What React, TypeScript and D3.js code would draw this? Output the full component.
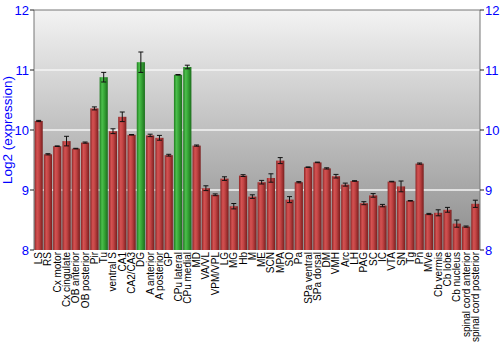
import React from "react";
import * as d3 from "d3";

const categories = ["LS","RS","Cx motor","Cx cingulate","OB anterior","OB posterior","Pir","Tu","ventral S","CA1","CA2/CA3","DG","A anterior","A posterior","GP","CPu lateral","CPu medial","MD","VA/VL","VPM/VPL","LG","MG","Hb","M","ME","SCN","MPA","SO","Pa","SPa ventral","SPa dorsal","DM","VMH","Arc","LH","PAG","SC","IC","VTA","SN","Tg","Pn","MVe","Cb vermis","Cb lobe","Cb nucleus","spinal cord anterior","spinal cord posterior"];
const values = [10.15,9.595,9.73,9.815,9.69,9.79,10.36,10.88,9.98,10.22,9.92,11.13,9.91,9.87,9.58,10.92,11.05,9.74,9.03,8.92,9.19,8.73,9.24,8.89,9.13,9.2,9.49,8.84,9.13,9.38,9.46,9.36,9.23,9.09,9.15,8.78,8.91,8.74,9.14,9.06,8.82,9.44,8.6,8.62,8.67,8.44,8.39,8.77];
const errors = [0.01,0.01,0.005,0.08,0.005,0.01,0.025,0.08,0.04,0.08,0.005,0.17,0.02,0.04,0.015,0.005,0.03,0.01,0.04,0.015,0.03,0.045,0.015,0.03,0.03,0.07,0.05,0.05,0.01,0.005,0.005,0.01,0.03,0.025,0.005,0.025,0.03,0.02,0.005,0.09,0.005,0.01,0.01,0.05,0.04,0.06,0.01,0.06];
const highlighted = ["Tu","DG","CPu lateral","CPu medial"];
const yTicks = [8,9,10,11,12];

export default function App() {
  const W = 500, H = 350;
  const left = 34, right = 480, top = 10, bottom = 250;
  const x = d3.scaleBand().domain(categories).range([left, right]).paddingInner(0.12).paddingOuter(0.06);
  const y = d3.scaleLinear().domain([8, 12]).range([bottom, top]);
  const font = "'Liberation Sans', Arial, sans-serif";
  return (
    <svg width={W} height={H} style={{ position: "absolute", left: 0, top: 0 }}>
      <defs>
        <linearGradient id="bg" x1="0" y1="0" x2="0" y2="1">
          <stop offset="0" stopColor="#f3f3f3" />
          <stop offset="1" stopColor="#8c8c8c" />
        </linearGradient>
        <linearGradient id="red" x1="0" y1="0" x2="1" y2="0">
          <stop offset="0" stopColor="#8e2626" />
          <stop offset="0.3" stopColor="#d45252" />
          <stop offset="0.55" stopColor="#c24444" />
          <stop offset="1" stopColor="#7a1e1e" />
        </linearGradient>
        <linearGradient id="green" x1="0" y1="0" x2="1" y2="0">
          <stop offset="0" stopColor="#1f7d1f" />
          <stop offset="0.3" stopColor="#4cbf4c" />
          <stop offset="0.55" stopColor="#38a838" />
          <stop offset="1" stopColor="#1c6e1c" />
        </linearGradient>
      </defs>
      <rect x={left} y={top} width={right - left} height={bottom - top} fill="url(#bg)" />
      {yTicks.slice(1, -1).map(t => (
        <line key={t} x1={left} x2={right} y1={y(t)} y2={y(t)} stroke="#f4f4f4" strokeWidth={1.5} />
      ))}
      {categories.map((c, i) => {
        const v = values[i], e = errors[i];
        const bx = x(c)!, bw = x.bandwidth();
        const cx = bx + bw / 2;
        return (
          <g key={c}>
            <rect x={bx} y={y(v)} width={bw} height={y(8) - y(v)} fill={highlighted.includes(c) ? "url(#green)" : "url(#red)"} />
            <line x1={cx} x2={cx} y1={y(v + e)} y2={y(v - e)} stroke="#111" strokeWidth={1} />
            <line x1={cx - 2.5} x2={cx + 2.5} y1={y(v + e)} y2={y(v + e)} stroke="#111" strokeWidth={1} />
            <line x1={cx - 2.5} x2={cx + 2.5} y1={y(v - e)} y2={y(v - e)} stroke="#111" strokeWidth={1} />
          </g>
        );
      })}
      <line x1={left} x2={right} y1={top} y2={top} stroke="#777" />
      <line x1={left} x2={left} y1={top} y2={bottom} stroke="#777" />
      <line x1={right} x2={right} y1={top} y2={bottom} stroke="#777" />
      {yTicks.map(t => (
        <g key={t}>
          <line x1={left - 4} x2={left} y1={y(t)} y2={y(t)} stroke="#222" />
          <text x={left - 5} y={y(t)} dy="0.35em" textAnchor="end" fill="#0000ff" fontFamily={font} fontSize={13}>{t}</text>
          <line x1={right} x2={right + 4} y1={y(t)} y2={y(t)} stroke="#222" />
          <text x={right + 5} y={y(t)} dy="0.35em" textAnchor="start" fill="#0000ff" fontFamily={font} fontSize={13}>{t}</text>
        </g>
      ))}
      <text transform={`translate(12,${(top + bottom) / 2}) rotate(-90)`} textAnchor="middle" fill="#0000ff" fontFamily={font} fontSize={13.5}>Log2 (expression)</text>
      {categories.map(c => (
        <text key={c} transform={`translate(${x(c)! + x.bandwidth() / 2},${bottom + 2}) rotate(-90)`} dy="0.35em" textAnchor="end" fill="#000" fontFamily={font} fontSize={10}>{c}</text>
      ))}
    </svg>
  );
}
